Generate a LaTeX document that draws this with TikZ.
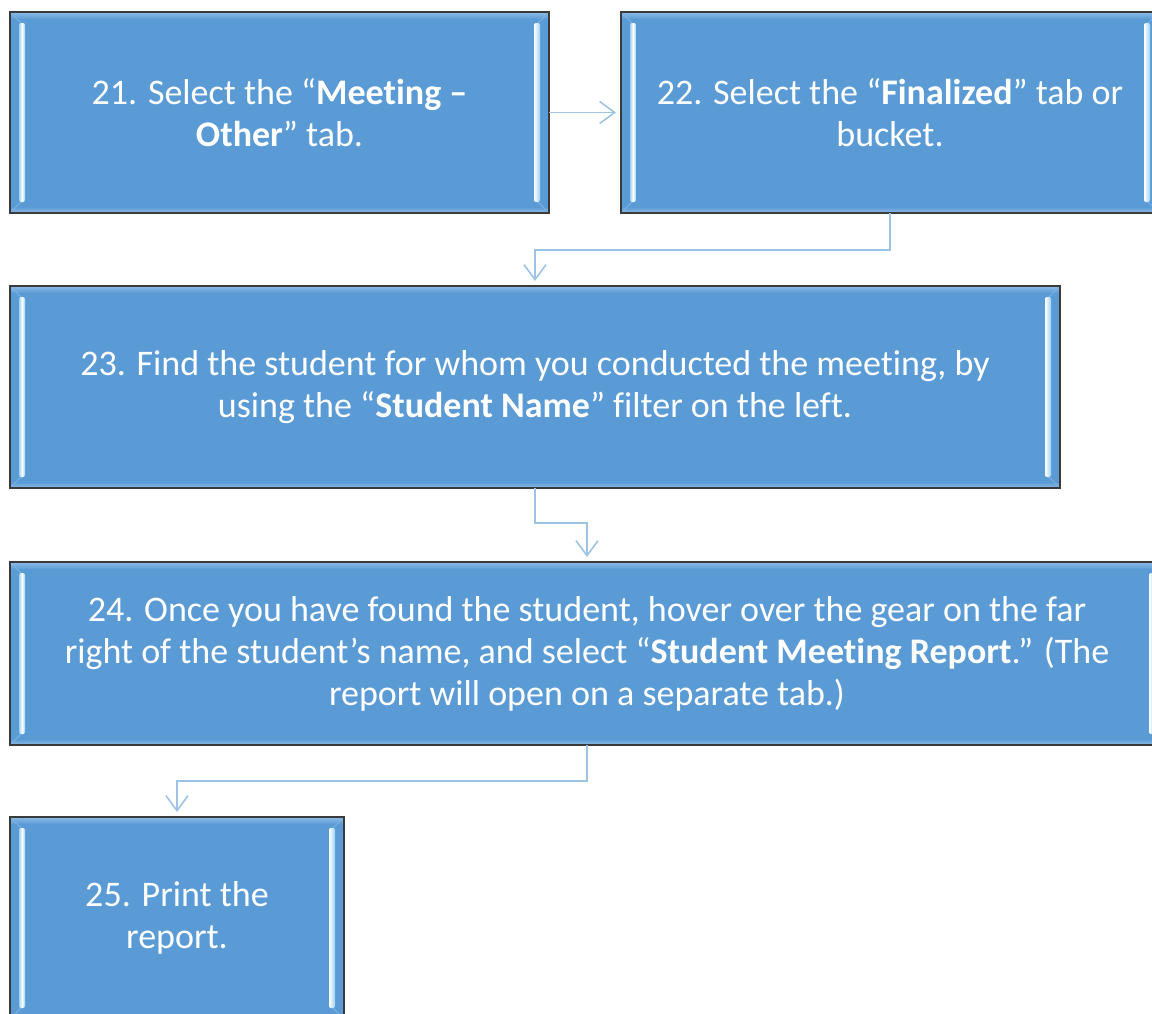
\documentclass[tikz,border=0pt]{standalone}
\usepackage{fontspec}
\setmainfont{Carlito}[Ligatures=NoCommon]
\usetikzlibrary{arrows.meta,calc}

\definecolor{boxblue}{HTML}{5B9BD5}
\definecolor{boxedge}{HTML}{3A3A3A}
\definecolor{bandlight}{HTML}{8DBBE6}
\definecolor{barlight}{HTML}{9CD3F4}
\definecolor{bevel}{HTML}{7DB3E2}
\definecolor{linkblue}{HTML}{9DC3E6}

\tikzset{
  stepbox/.style={
    draw=boxedge, line width=1.8pt, fill=boxblue, text=white,
    align=center, inner sep=0pt, outer sep=0pt,
    font=\fontsize{36}{42}\selectfont,
    path picture={
      \coordinate (pa) at (path picture bounding box.north west);
      \coordinate (pb) at (path picture bounding box.south east);
      % soft light band along the top and bottom edges
      \shade[top color=bandlight, bottom color=boxblue]
        (pa) rectangle ($(pa -| pb)+(0,7)$);
      \shade[top color=boxblue, bottom color=bandlight]
        ($(pa |- pb)+(0,-6)$) rectangle (pb);
      % bevel edges running into the corners
      \draw[bevel, line width=1pt] (pa) -- ($(pa)+(12,12)$);
      \draw[bevel, line width=1pt] (pa |- pb) -- ($(pa |- pb)+(12,-12)$);
      \draw[bevel, line width=1pt] (pa -| pb) -- ($(pa -| pb)+(-12,12)$);
      \draw[bevel, line width=1pt] (pb) -- ($(pb)+(-12,-12)$);
      % glossy vertical bars near the left and right edges
      \shade[rounded corners=2pt, left color=barlight, right color=barlight, middle color=white]
        ($(pa)+(9,11)$) rectangle ($(pa |- pb)+(15,-11)$);
      \shade[rounded corners=2pt, left color=white, right color=barlight]
        ($(pa -| pb)+(-15,11)$) rectangle ($(pb)+(-9,-11)$);
    }
  },
  link/.style={
    draw=linkblue, line width=1.6pt, shorten >=5pt,
    -{Straight Barb[length=15pt, width=22pt, line width=1.6pt]}
  }
}

\begin{document}
\begin{tikzpicture}[x=1pt, y=-1pt]
  \useasboundingbox (0,0) rectangle (1152,1013);
  \clip (0,0) rectangle (1152,1013);

  \node[stepbox, minimum width=539, minimum height=201] (b21) at (279.5,112.5)
    {21. Select the “\textbf{Meeting –}\\\textbf{Other}” tab.};
  \node[stepbox, minimum width=538, minimum height=201] (b22) at (890,112.5)
    {22. Select the “\textbf{Finalized}” tab or\\bucket.};
  \node[stepbox, minimum width=1050, minimum height=202] (b23) at (535,387)
    {23. Find the student for whom you conducted the meeting, by\\
     using the “\textbf{Student Name}” filter on the left.};
  \node[stepbox, minimum width=1154, minimum height=183] (b24) at (587,653.5)
    {24. Once you have found the student, hover over the gear on the far\\
     right of the student’s name, and select “\textbf{Student Meeting Report}.” (The\\
     report will open on a separate tab.)};
  \node[stepbox, minimum width=334, minimum height=202] (b25) at (177,918)
    {25. Print the\\report.};

  \draw[link] (b21.east) -- (b22.west);
  \draw[link] (b22.south) -- ++(0,37) -| (b23.north);
  \draw[link] (b23.south) -- ++(0,35) -| (b24.north);
  \draw[link] (b24.south) -- ++(0,36) -| (b25.north);
\end{tikzpicture}
\end{document}
